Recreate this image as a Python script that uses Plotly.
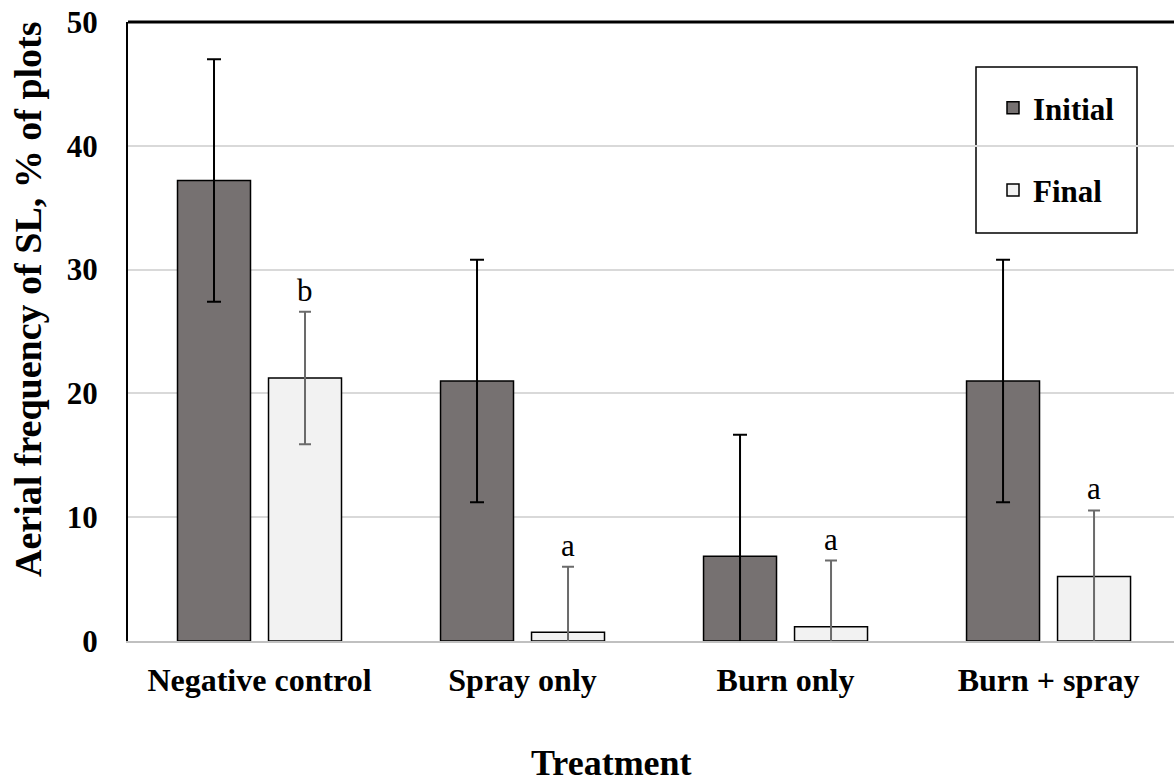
import plotly.graph_objects as go

categories = ["Negative control", "Spray only", "Burn only", "Burn + spray"]
initial_vals = [37.2, 21.0, 6.85, 21.0]
initial_err = [9.8, 9.8, 9.8, 9.8]
final_vals = [21.25, 0.7, 1.15, 5.2]
final_err = [5.35, 5.3, 5.35, 5.35]
letters = ["b", "a", "a", "a"]
y_ticks = [0, 10, 20, 30, 40, 50]

FONT = "Liberation Serif, Times New Roman, serif"
W, H = 1174, 783
L, T, R = 128, 22, 0
B = H - 641

fig = go.Figure()
fig.add_trace(go.Bar(
    name="Initial", x=categories, y=initial_vals,
    marker=dict(color="#767171", line=dict(color="black", width=1.5)),
    error_y=dict(type="data", array=initial_err, visible=True,
                 color="black", thickness=2, width=7),
    legendgroup="i",
))
fig.add_trace(go.Bar(
    name="Final", x=categories, y=final_vals,
    marker=dict(color="#F2F2F2", line=dict(color="black", width=1.5)),
    error_y=dict(type="data", array=final_err, visible=True,
                 color="#6b6b6b", thickness=2, width=6),
    legendgroup="f",
))

for i, (v, e, s) in enumerate(zip(final_vals, final_err, letters)):
    fig.add_annotation(x=i + 0.173, y=v + e, xref="x", yref="y", text=s,
                       showarrow=False, yanchor="bottom", yshift=2,
                       font=dict(family=FONT, size=31, color="black"))

pw = W - L - R
ph = H - T - B

def px_x(p):
    return (p - 128) / pw

def px_y(p):
    return (641 - p) / ph

fig.add_annotation(x=px_x(28), y=px_y(299), xref="paper", yref="paper",
                   text="Aerial frequency of SL, % of plots", textangle=-90,
                   showarrow=False, xanchor="center", yanchor="middle",
                   font=dict(family=FONT, size=38, color="black", weight="bold"))
fig.add_annotation(x=px_x(611), y=px_y(763), xref="paper", yref="paper",
                   text="Treatment", showarrow=False,
                   xanchor="center", yanchor="middle",
                   font=dict(family=FONT, size=36, color="black", weight="bold"))

# top border line
fig.add_shape(type="line", xref="paper", yref="paper", x0=0, x1=1, y0=1, y1=1,
              line=dict(color="black", width=3))
# legend box
fig.add_shape(type="rect", xref="paper", yref="paper",
              x0=px_x(976), x1=px_x(1137), y0=px_y(233), y1=px_y(67),
              line=dict(color="black", width=1.5), fillcolor="white", layer="below")

fig.update_layout(
    width=W, height=H,
    margin=dict(l=L, r=R, t=T, b=B, pad=0, autoexpand=False),
    plot_bgcolor="white", paper_bgcolor="white",
    barmode="group", bargap=0.308, bargroupgap=0.198,
    font=dict(family=FONT, color="black"),
    legend=dict(x=px_x(993), y=px_y(81), xanchor="left", yanchor="top",
                bgcolor="rgba(0,0,0,0)", borderwidth=0,
                font=dict(family=FONT, size=31, color="black", weight="bold"),
                traceorder="grouped", tracegroupgap=39,
                itemclick=False),
    showlegend=True,
)
fig.update_xaxes(
    range=[-0.5, 3.477], showgrid=False, showline=True, linecolor="#c0c0c0",
    linewidth=2, ticks="", tickfont=dict(family=FONT, size=32, color="black", weight="bold"),
    ticklabelstandoff=10, zeroline=False,
)
fig.update_yaxes(
    range=[0, 50], tickvals=y_ticks, showgrid=True, gridcolor="#d9d9d9",
    gridwidth=1.5, showline=True, linecolor="black", linewidth=2, ticks="",
    tickfont=dict(family=FONT, size=31, color="black", weight="bold"),
    ticklabelstandoff=22, zeroline=False, ticklabeloverflow="allow",
)

fig.write_html("out.html", config={"displayModeBar": False},
               post_script="document.body.style.margin='0';")
